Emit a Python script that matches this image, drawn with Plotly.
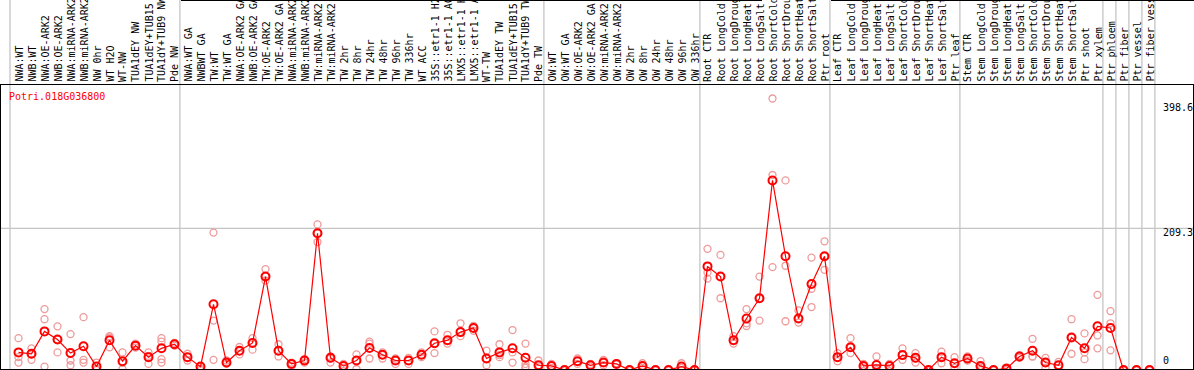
import plotly.graph_objects as go

labels = [
    "NWA:WT", "NWB:WT", "NWA:OE-ARK2", "NWB:OE-ARK2", "NWA:miRNA-ARK2", "NWB:miRNA-ARK2",
    "NW 0hr", "WT H2O", "WT-NW", "TUA1dEY NW", "TUA1dEY+TUB15", "TUA1dY+TUB9 NW", "Pde NW",
    "NWA:WT GA", "NWBWT GA", "TW:WT", "TW:WT GA", "NWA:OE-ARK2 GA", "NWB:OE-ARK2 GA",
    "TW:OE-ARK2", "TW:OE-ARK2 GA", "NWA:miRNA-ARK2", "NWB:miRNA-ARK2", "TW:miRNA-ARK2",
    "TW:miRNA-ARK2", "TW 2hr", "TW 8hr", "TW 24hr", "TW 48hr", "TW 96hr", "TW 336hr",
    "WT ACC", "35S::etr1-1 H2O", "35S::etr1-1 ACC", "LMX5::etr1-1 H2O", "LMX5::etr1-1 ACC",
    "WT-TW", "TUA1dEY TW", "TUA1dEY+TUB15", "TUA1dY+TUB9 TW", "Pde TW",
    "OW:WT", "OW:WT GA", "OW:OE-ARK2", "OW:OE-ARK2 GA", "OW:miRNA-ARK2", "OW:miRNA-ARK2",
    "OW 2hr", "OW 8hr", "OW 24hr", "OW 48hr", "OW 96hr", "OW 336hr",
    "Root CTR", "Root LongCold", "Root LongDrought", "Root LongHeat", "Root LongSalt",
    "Root ShortCold", "Root ShortDrought", "Root ShortHeat", "Root ShortSalt", "Ptr root",
    "Leaf CTR", "Leaf LongCold", "Leaf LongDrought", "Leaf LongHeat", "Leaf LongSalt",
    "Leaf ShortCold", "Leaf ShortDrought", "Leaf ShortHeat", "Leaf ShortSalt", "Ptr leaf",
    "Stem CTR", "Stem LongCold", "Stem LongDrought", "Stem LongHeat", "Stem LongSalt",
    "Stem ShortCold", "Stem ShortDrought", "Stem ShortHeat", "Stem ShortSalt", "Ptr shoot",
    "Ptr xylem", "Ptr phloem", "Ptr fiber", "Ptr vessel", "Ptr fiber vessel",
]

means = [
    26, 24, 57, 45, 25, 35, 5, 44, 13, 36, 19, 32, 38,
    19, 5, 97, 11, 28.5, 40, 138, 28.5, 9, 14, 202, 18, 6, 14, 32.5, 22.5, 14, 14,
    22.5, 39.5, 44, 56, 62, 17, 26, 32, 18, 7,
    6, 0, 13, 7, 11, 9, 0, 6, 0, 0, 5, 0,
    153, 138, 44, 76, 106, 280, 168, 76, 127, 168,
    19, 33.5, 6, 7.5, 6, 22, 18, 0, 19, 10,
    17, 6, 0, 2, 20, 28.5, 11, 7, 48, 32,
    64.5, 62, 0, 0, 0,
]

replicates = [
    [47, 19, 11], [32, 23, 15], [90, 75, 5], [64.5, 45, 26], [53, 14, 7], [78, 15, 11],
    [11, 2, 0], [50, 48, 33.5], [26, 11, 1.5], [39, 36, 33], [26, 21, 9], [47, 42, 16, 11],
    [40, 38, 36],
    [24, 19, 14], [5, 2, 0], [203, 73, 15], [14, 11, 9], [34, 28, 23], [47, 40, 30],
    [149, 138, 132], [38, 28, 20], [11, 9, 6], [16, 14, 11], [215, 202, 189], [20, 17, 11],
    [9, 6, 3], [23, 14, 1.5], [42, 39, 17], [26, 22, 17], [17, 14, 9], [18, 14, 9],
    [26, 22, 19], [57, 39, 25], [52, 44, 39], [69, 56, 50], [65, 62, 58], [28.5, 17, 7],
    [38, 22, 19], [59, 26, 11], [39, 9, 5, 3], [14, 7, 2],
    [9, 6, 3], [0, 0, 0], [17, 13, 9], [9, 7, 5], [15, 11, 7], [10, 9, 8], [0, 0, 0],
    [10, 6, 3], [0, 0, 0], [0, 0, 0], [10, 3, 0], [0, 0, 0],
    [179, 144, 135], [170, 138, 106], [50, 44, 39], [90, 69, 65], [138, 106, 73],
    [401, 288, 152], [280, 154, 72], [88, 76, 70], [166, 120, 93], [190, 168, 148],
    [25, 19, 13], [47, 33, 25], [9, 6, 3], [20, 3, 0], [9, 6, 3], [32, 22, 15],
    [25, 17, 11], [0, 0, 0], [27, 19, 10], [19, 10, 3],
    [20, 17, 14], [13, 5, 0], [0, 0, 0], [4, 2, 0], [22, 20, 18], [46, 20, 20],
    [18, 11, 3], [12, 7, 3], [75, 48, 24], [54, 26, 16],
    [111, 51, 32], [87, 69, 29], [0, 0, 0], [0, 0, 0], [0, 0, 0],
]

gene = "Potri.018G036800"
ytick_vals = [398.6, 209.3, 0]
group_ends = [12, 40, 52, 62, 72, 83, 84, 85, 86, 87]

W, H = 1194, 370
L, R, T, B = 1, 1, 85, 1
PW, PH = W - L - R, H - T - B
COL = 13.0
X0 = 18.5  # pixel centre of first column
xmin = -(X0 - L) / COL
xmax = xmin + PW / COL
UNITS_PER_PX = 1.477
ymin = 1 * UNITS_PER_PX
ymax = ymin + PH * UNITS_PER_PX


def px_x(p):
    return (p - L) / PW


def px_y(p):
    return (H - B - p) / PH


FONT = "DejaVu Sans Mono"
fig = go.Figure()

rx, ry = [], []
for i, vals in enumerate(replicates):
    for v in vals:
        rx.append(i)
        ry.append(v)

fig.add_trace(go.Scatter(
    x=rx, y=ry, mode="markers", hoverinfo="skip",
    marker=dict(symbol="circle-open", size=7, color="#ee9a9a", line=dict(width=1.3, color="#ee9a9a")),
))
fig.add_trace(go.Scatter(
    x=list(range(len(means))), y=means, mode="lines+markers",
    line=dict(color="#ff0000", width=1.2),
    marker=dict(symbol="circle-open", size=8, color="#ff0000", line=dict(width=2, color="#ff0000")),
))

shapes = []
for xp in [10] + [X0 + COL * g + 5.4 for g in group_ends]:
    shapes.append(dict(type="line", xref="paper", yref="paper",
                       x0=px_x(xp), x1=px_x(xp), y0=0, y1=px_y(0),
                       line=dict(color="#c4c4c4", width=1.3), layer="below"))
shapes.append(dict(type="line", xref="paper", yref="y", x0=0, x1=1, y0=209.3, y1=209.3,
                   line=dict(color="#c4c4c4", width=1.3), layer="below"))
for a, b in [(181, 762), (831, W)]:
    shapes.append(dict(type="line", xref="paper", yref="paper", x0=px_x(a), x1=px_x(b),
                       y0=px_y(0.5), y1=px_y(0.5), line=dict(color="black", width=1)))

annotations = []
for i, lab in enumerate(labels):
    annotations.append(dict(
        x=i, xref="x", y=1, yref="paper", yanchor="bottom", xanchor="center",
        yshift=1, text=lab, textangle=-90, showarrow=False,
        font=dict(family=FONT, size=10, color="black"),
    ))
annotations.append(dict(
    x=px_x(7), xref="paper", y=px_y(89), yref="paper", xanchor="left", yanchor="top",
    text=gene, showarrow=False, font=dict(family=FONT, size=10, color="#ff0000"),
))
ylab_tops = {398.6: 100, 209.3: 225}
for v in ytick_vals:
    if v == 0:
        annotations.append(dict(x=px_x(1161), xref="paper", y=px_y(368), yref="paper",
                                xanchor="left", yanchor="bottom", text="0", showarrow=False,
                                font=dict(family=FONT, size=10, color="black")))
    else:
        annotations.append(dict(x=px_x(1161), xref="paper", y=px_y(ylab_tops[v]), yref="paper",
                                xanchor="left", yanchor="top", text=f"{v}", showarrow=False,
                                font=dict(family=FONT, size=10, color="black")))

fig.update_layout(
    width=W, height=H,
    margin=dict(l=L, r=R, t=T, b=B, pad=0),
    paper_bgcolor="white", plot_bgcolor="white",
    showlegend=False,
    shapes=shapes, annotations=annotations,
    xaxis=dict(range=[xmin, xmax], showgrid=False, zeroline=False, showticklabels=False,
               ticks="", showline=True, linecolor="black", linewidth=1, mirror=True),
    yaxis=dict(range=[ymin, ymax], showgrid=False, zeroline=False, showticklabels=False,
               ticks="", showline=True, linecolor="black", linewidth=1, mirror=True),
    font=dict(family=FONT, size=10),
)

fig.write_html("out.html", config={"displayModeBar": False},
               post_script="document.body.style.margin='0';")
